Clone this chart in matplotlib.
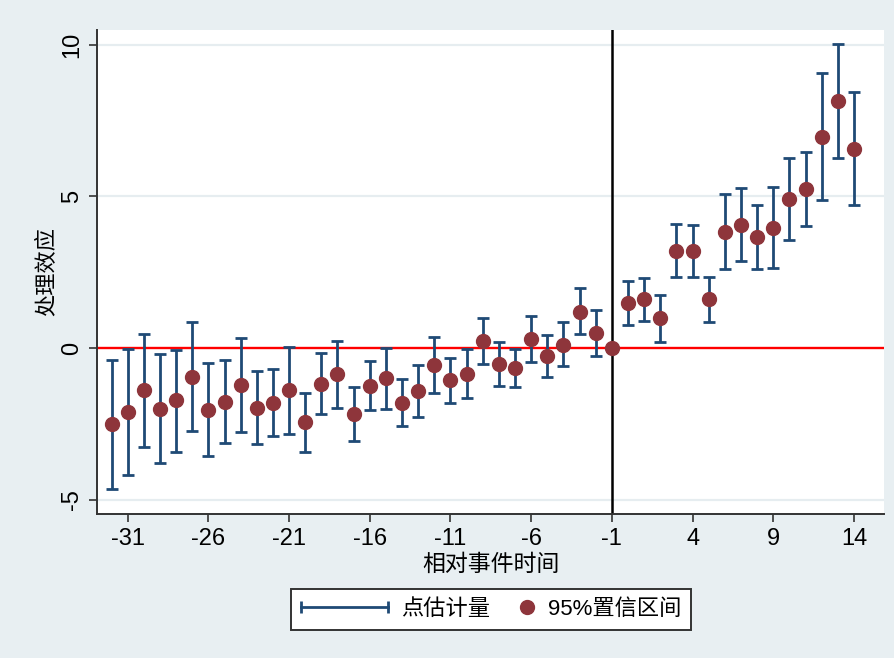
import numpy as np
import matplotlib
matplotlib.use("Agg")
import matplotlib.pyplot as plt
from matplotlib.lines import Line2D
from matplotlib.legend_handler import HandlerBase

plt.rcParams['font.family'] = ['Liberation Sans', 'Noto Sans CJK SC']
plt.rcParams['axes.unicode_minus'] = False

# Relative event time
periods = np.arange(-32, 15)

# Point estimates
estimates = [
    -2.51, -2.10, -1.39, -1.99, -1.72, -0.95, -2.02, -1.77, -1.22, -1.96,
    -1.80, -1.39, -2.43, -1.17, -0.86, -2.16, -1.24, -0.99, -1.80, -1.41,
    -0.56, -1.06, -0.84, 0.25, -0.53, -0.64, 0.30, -0.26, 0.11, 1.20,
    0.51, 0.00,
    1.50, 1.61, 0.99, 3.21, 3.21, 1.61, 3.84, 4.06, 3.66, 3.97,
    4.91, 5.25, 6.96, 8.14, 6.57,
]

# 95% confidence bounds (reference period -1 has none)
ci_upper = [
    -0.40, -0.01, 0.48, -0.20, -0.05, 0.85, -0.48, -0.40, 0.32, -0.75,
    -0.69, 0.04, -1.46, -0.15, 0.24, -1.29, -0.43, 0.01, -1.02, -0.54,
    0.37, -0.31, -0.04, 1.01, 0.20, -0.02, 1.06, 0.42, 0.85, 1.97,
    1.25, np.nan,
    2.22, 2.31, 1.76, 4.09, 4.06, 2.33, 5.07, 5.27, 4.72, 5.30,
    6.25, 6.46, 9.05, 10.01, 8.44,
]
ci_lower = [
    -4.65, -4.19, -3.24, -3.78, -3.42, -2.74, -3.55, -3.12, -2.76, -3.17,
    -2.90, -2.82, -3.42, -2.16, -1.97, -3.05, -2.05, -2.00, -2.56, -2.28,
    -1.49, -1.80, -1.63, -0.51, -1.24, -1.28, -0.45, -0.96, -0.59, 0.47,
    -0.25, np.nan,
    0.78, 0.90, 0.20, 2.34, 2.33, 0.85, 2.60, 2.86, 2.61, 2.64,
    3.55, 4.04, 4.87, 6.27, 4.72,
]

x_ticks = [-31, -26, -21, -16, -11, -6, -1, 4, 9, 14]
y_ticks = [-5, 0, 5, 10]

BG = '#E8EFF2'
NAVY = '#1F4A75'
MAROON = '#8E353B'
GRID = '#E6EDF0'

est = np.array(estimates)
lo = np.array(ci_lower)
hi = np.array(ci_upper)

fig = plt.figure(figsize=(8.94, 6.58), dpi=100, facecolor=BG)
ax = fig.add_axes([97 / 894, 1 - 514 / 658, (884 - 97) / 894, (514 - 30) / 658])
ax.set_facecolor('white')

ax.set_xlim(-32.9, 15.86)
ax.set_ylim(-5.46, 10.48)

# light horizontal grid
for yv in y_ticks:
    if yv != 0:
        ax.axhline(yv, color=GRID, lw=1.6, zorder=0.5)

ax.axhline(0, color='#FF0000', lw=1.7, zorder=1)
ax.axvline(-1, color='black', lw=1.8, zorder=1.5)

ax.errorbar(periods, est, yerr=[est - lo, hi - est], fmt='none',
            ecolor=NAVY, elinewidth=2.0, capsize=4.2, capthick=2.0, zorder=2)
ax.plot(periods, est, 'o', color=MAROON, ms=10, mec=MAROON, zorder=3)

ax.set_xticks(x_ticks)
ax.set_xticklabels([str(v) for v in x_ticks])
ax.set_yticks(y_ticks)
ax.set_yticklabels([str(v) for v in y_ticks], rotation=90, va='center')

for side in ('top', 'right'):
    ax.spines[side].set_visible(False)
for side in ('left', 'bottom'):
    ax.spines[side].set_color('#333333')
    ax.spines[side].set_linewidth(1.4)

ax.tick_params(axis='both', length=6, width=1.2, color='#333333',
               labelsize=17, labelcolor='black', pad=4)

ax.set_xlabel('相对事件时间', fontsize=16.5, labelpad=2)
ax.set_ylabel('处理效应', fontsize=16, labelpad=3)


class CappedLineHandler(HandlerBase):
    def create_artists(self, legend, orig_handle, xdescent, ydescent,
                       width, height, fontsize, trans):
        y = height / 2 - ydescent
        x0, x1 = -xdescent, -xdescent + width
        line = Line2D([x0, x1], [y, y], color=NAVY, lw=2.0)
        caps = Line2D([x0, x1], [y, y], ls='none', marker='|', ms=9,
                      mew=2.0, color=NAVY)
        line.set_transform(trans)
        caps.set_transform(trans)
        return [line, caps]


class RightDotHandler(HandlerBase):
    def create_artists(self, legend, orig_handle, xdescent, ydescent,
                       width, height, fontsize, trans):
        y = height / 2 - ydescent
        x = -xdescent + width - 5
        dot = Line2D([x], [y], ls='none', marker='o', ms=10,
                     color=MAROON, mec=MAROON)
        dot.set_transform(trans)
        return [dot]


h_line = Line2D([], [])
h_dot = Line2D([], [], marker='o')
leg = fig.legend([h_line, h_dot], ['点估计量', '95%置信区间'],
                 handler_map={h_line: CappedLineHandler(), h_dot: RightDotHandler()},
                 loc='center', bbox_to_anchor=(491 / 894, 1 - 609.5 / 658),
                 ncol=2, fontsize=16, frameon=True, fancybox=False,
                 edgecolor='#333333', facecolor='white', framealpha=1,
                 handlelength=3.9, handletextpad=0.6, columnspacing=-1.9,
                 borderpad=0.45)
leg.get_frame().set_linewidth(1.4)

fig.savefig('out.png', dpi=100, facecolor=BG)
